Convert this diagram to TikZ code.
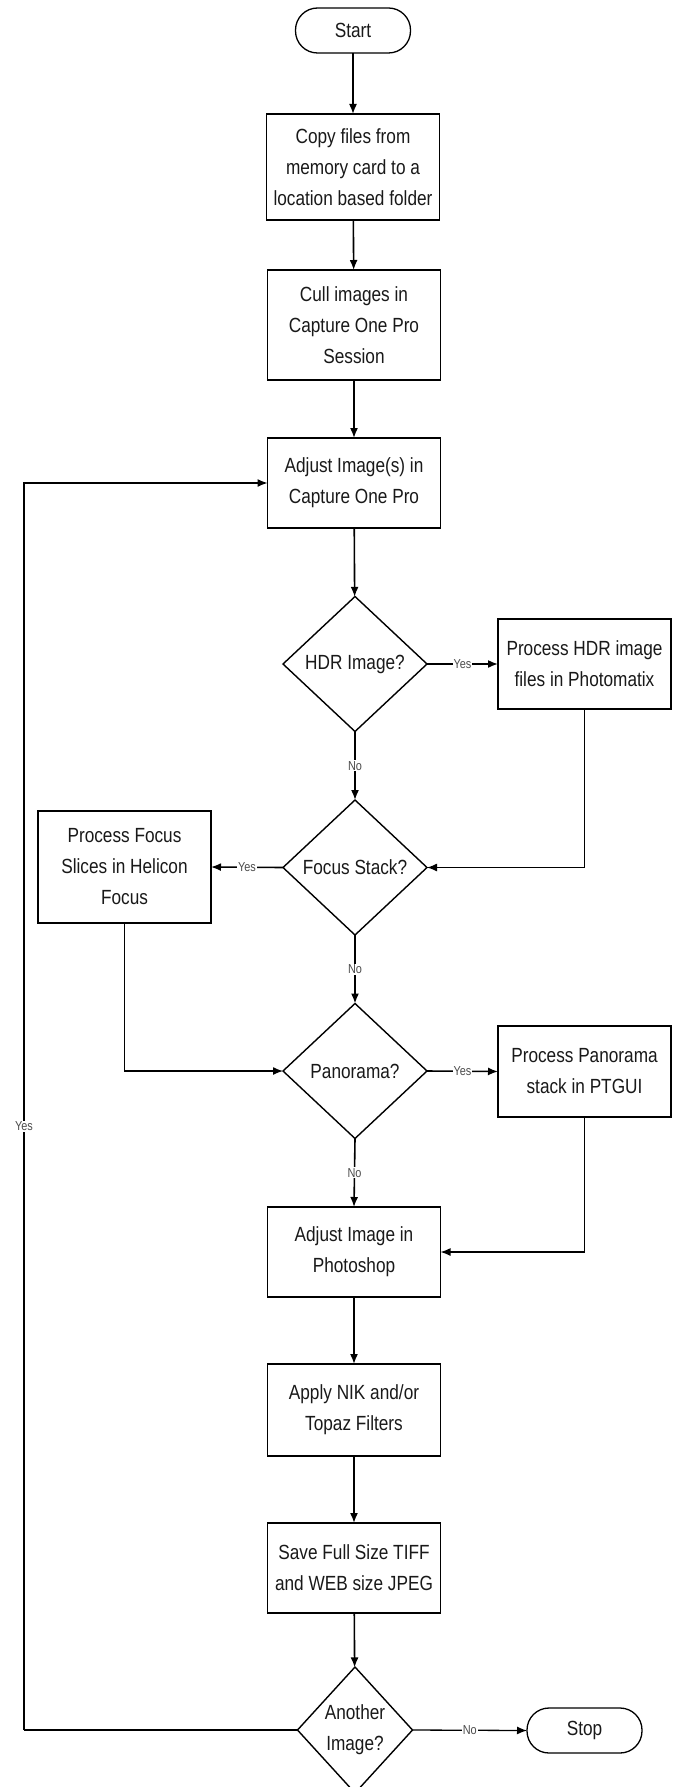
\documentclass[tikz,border=0pt]{standalone}
\usepackage{fontspec}
\setmainfont{Liberation Sans}[FakeStretch=0.84]
\usetikzlibrary{shapes.geometric,arrows.meta}
\begin{document}
\begin{tikzpicture}[x=1pt,y=-1pt,
  every node/.style={text=black!90, outer sep=0pt},
  txt/.style={font=\fontsize{20.5}{31}\selectfont},
  proc/.style={txt, draw=black, line width=1.6pt, minimum width=173pt, align=center, inner sep=0pt},
  dec/.style={txt, draw=black, diamond, line width=1.4pt, align=center, inner sep=0pt, minimum width=144pt, minimum height=135pt},
  term/.style={txt, draw=black, line width=1.3pt, rounded corners=22pt, minimum width=115pt, minimum height=45pt, inner sep=0pt},
  arr/.style={draw=black, line width=1.6pt, -{Latex[length=10pt,width=8pt]}},
  thin/.style={draw=black, line width=1.3pt, -{Latex[length=10pt,width=8pt]}},
  plain/.style={draw=black, line width=1.3pt},
  lab/.style={font=\fontsize{13}{14}\selectfont, text=black!70, fill=white, inner sep=1pt}
]
\fill[white] (0,0) rectangle (672,1787);
\useasboundingbox (0,0) rectangle (672,1787);

\node[term] (start) at (353,30.5) {Start};
\node[proc, minimum height=106pt] (copy) at (353,167) {Copy files from\\memory card to a\\location based folder};
\node[proc, minimum height=110pt] (cull) at (354,325) {Cull images in\\Capture One Pro\\Session};
\node[proc, minimum height=90pt] (adj) at (354,483) {Adjust Image(s) in\\Capture One Pro};
\node[dec] (hdr) at (355,664) {HDR Image?};
\node[proc, minimum height=90pt] (hdrbox) at (584.5,664) {Process HDR image\\files in Photomatix};
\node[dec] (focus) at (355,867.5) {Focus Stack?};
\node[proc, minimum height=112pt] (focusbox) at (124.5,867) {Process Focus\\Slices in Helicon\\Focus};
\node[dec] (pano) at (355,1071) {Panorama?};
\node[proc, minimum height=91pt] (panobox) at (584.5,1071.5) {Process Panorama\\stack in PTGUI};
\node[proc, minimum height=90pt] (ps) at (354,1252) {Adjust Image in\\Photoshop};
\node[proc, minimum height=92pt] (nik) at (354,1410) {Apply NIK and/or\\Topaz Filters};
\node[proc, minimum height=90pt] (save) at (354,1568) {Save Full Size TIFF\\and WEB size JPEG};
\node[dec, minimum width=115pt, minimum height=126pt] (another) at (355,1730) {Another\\Image?};
\node[term] (stop) at (584.5,1730.5) {Stop};
\coordinate (lp) at (24,1730);

\draw[arr] (start) -- (copy);
\draw[arr] (copy) -- (cull);
\draw[arr] (cull) -- (adj);
\draw[arr] (adj) -- (hdr);
\draw[arr] (hdr.east) -- node[lab]{Yes} (hdrbox.west);
\draw[arr] (hdr.south) -- node[lab]{No} (focus.north);
\draw[thin] (hdrbox.south) |- (focus.east);
\draw[arr] (focus.west) -- node[lab]{Yes} (focusbox.east);
\draw[arr] (focus.south) -- node[lab]{No} (pano.north);
\draw[thin] (focusbox.south) |- (pano.west);
\draw[arr] (pano.east) -- node[lab]{Yes} (panobox.west);
\draw[arr] (pano.south) -- node[lab]{No} (ps.north);
\draw[thin] (panobox.south) |- (ps.east);
\draw[arr] (ps) -- (nik);
\draw[arr] (nik) -- (save);
\draw[arr] (save) -- (another);
\draw[thin] (another.east) -- node[lab]{No} (stop.west);
\draw[plain] (another.west) -- (lp);
\draw[thin] (lp) |- node[lab, pos=0.242]{Yes} (adj.west);
\end{tikzpicture}
\end{document}
